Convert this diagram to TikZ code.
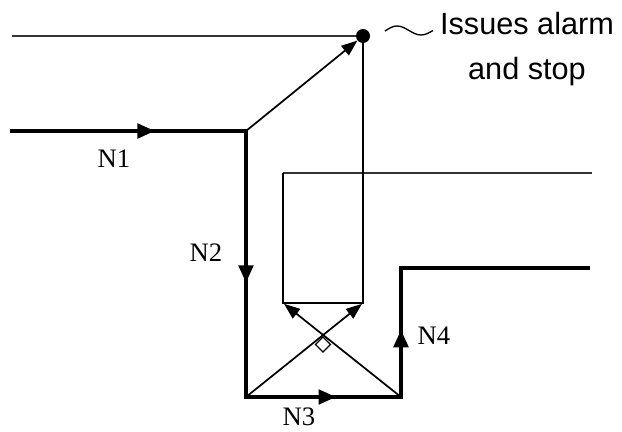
\documentclass[tikz,border=0pt]{standalone}
\usepackage{fontspec}
\setmainfont{Liberation Serif}
\newfontfamily\alarmfont{Liberation Sans}
\usetikzlibrary{arrows.meta, decorations.markings, positioning, calc}
\tikzset{
  flow/.style={line width=2.4pt, line cap=rect},
  wire/.style={line width=1.3pt},
  faint/.style={line width=1.3pt, black!80},
  tip/.style={-{Triangle[length=12pt, width=9pt]}},
  midarrow/.style={
    postaction={decorate},
    decoration={markings, mark=at position #1 with {\arrow{Triangle[length=13pt, width=11pt]}}}
  },
  lbl/.style={font=\fontsize{20}{24}\selectfont, inner sep=0pt}
}
\begin{document}
\begin{tikzpicture}[x=0.75pt, y=-0.75pt]
  \useasboundingbox (0,0) rectangle (622,432);

  % points of the circuit
  \coordinate (in1) at (12,131);
  \coordinate (j) at (246,131);
  \coordinate (a) at (246,397);
  \coordinate (b) at (401,397);
  \coordinate (c) at (401,268);
  \coordinate (out) at (588,268);
  \coordinate (topL) at (12,36);
  \coordinate (rTR) at (592,173);
  \coordinate (rTL) at (283,173);
  \coordinate (rBL) at (283,303);
  \coordinate (rBR) at (363,303);
  \node[circle, fill=black, inner sep=0pt, minimum size=10.5pt] (dot) at (363,36) {};

  % thick flow with mid arrows
  \draw[flow, midarrow=0.61] (in1) -- (j);
  \draw[flow, midarrow=0.57] (j) -- (a);
  \draw[flow, midarrow=0.58] (a) -- (b);
  \draw[flow, midarrow=0.52] (b) -- (c);
  \draw[flow] (c) -- (out);

  % thin lines
  \draw[faint] (topL) -- (dot);
  \draw[wire, tip] (j) -- (dot);
  \draw[faint] (rTR) -- (rTL);
  \draw[wire] (rTL) -- (rBL) -- (rBR) -- (dot.center);

  % crossing lines
  \draw[wire, tip, shorten >=1pt] (a) -- (rBR);
  \draw[wire, tip, shorten >=1pt] (b) -- (rBL);
  \coordinate (x) at (323,337);
  \draw[line width=1pt] (x) -- ++(7.5,7.5) -- ++(-7.5,7.5) -- ++(-7.5,-7.5) -- cycle;

  % labels
  \node[lbl] (n1) at (114,159) {N1};
  \node[lbl] (n2) at (206,253) {N2};
  \node[lbl] (n3) at (299,417) {N3};
  \node[lbl] (n4) at (434,336) {N4};

  % alarm note
  \draw[line width=1pt] (385,31) sin (397,26) cos (409,30.5) sin (421,35) cos (433,30.5);
  \node[anchor=north, inner sep=0pt, align=center,
        font=\alarmfont\fontsize{23}{34}\selectfont] (alarm) at (527,12)
    {Issues alarm\\and stop};

\end{tikzpicture}
\end{document}
